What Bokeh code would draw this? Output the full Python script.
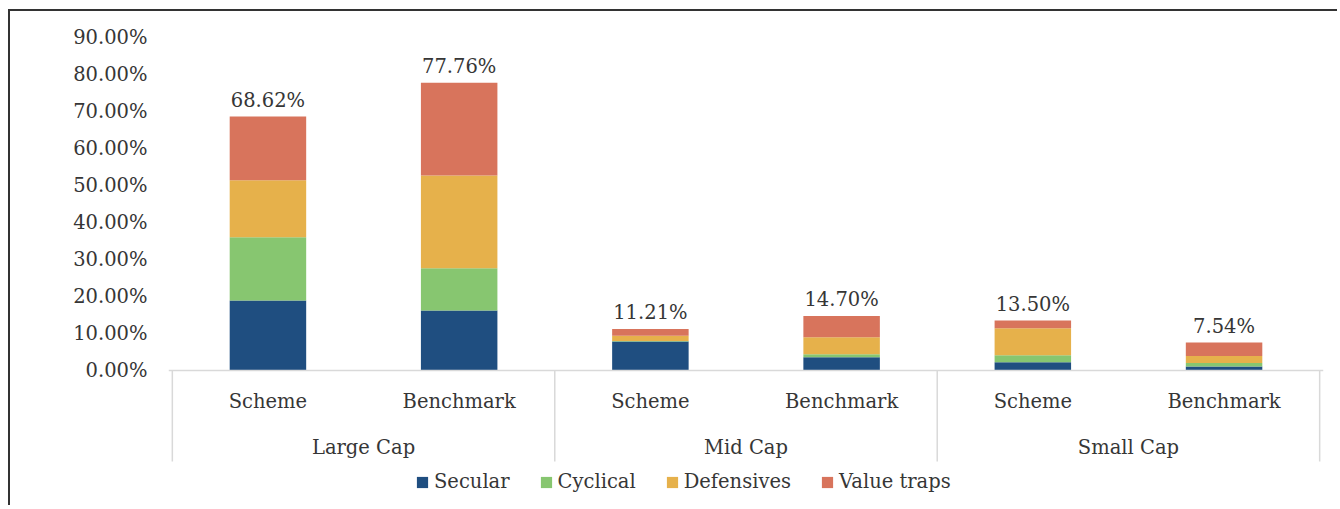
from bokeh.plotting import figure
from bokeh.models import (ColumnDataSource, FactorRange, Range1d, FixedTicker,
                          PrintfTickFormatter, Span)
from bokeh.core.properties import value
from bokeh.embed import file_html
from bokeh.resources import INLINE

groups = ["Large Cap", "Mid Cap", "Small Cap"]
subs = ["Scheme", "Benchmark"]
series = ["Secular", "Cyclical", "Defensives", "Value traps"]
secular = [18.9, 16.2, 7.8, 3.6, 2.2, 1.1]
cyclical = [17.1, 11.4, 0.2, 0.8, 1.9, 0.9]
defensives = [15.4, 25.1, 1.4, 4.6, 7.3, 1.9]
value_traps = [17.22, 25.06, 1.81, 5.7, 2.1, 3.64]
total_labels = ["68.62%", "77.76%", "11.21%", "14.70%", "13.50%", "7.54%"]
y_ticks = [0, 10, 20, 30, 40, 50, 60, 70, 80, 90]

colors = ["#1F4E80", "#87C670", "#E6B14B", "#D8745C"]
FONT = "DejaVu Serif"
FS = "19.5px"
TXT = "#363636"
AXIS_LOW = -24.6

factors = [(g, s) for g in groups for s in subs]
totals = [a + b + c + d for a, b, c, d in zip(secular, cyclical, defensives, value_traps)]

source = ColumnDataSource(dict(x=factors, Secular=secular, Cyclical=cyclical,
                               Defensives=defensives, **{"Value traps": value_traps}))

p = figure(width=1329, height=496,
           x_range=FactorRange(*factors, group_padding=0, factor_padding=0,
                               range_padding=0.02, range_padding_units="absolute"),
           y_range=Range1d(-36.5, 91.9),
           output_backend="svg", toolbar_location=None,
           min_border_left=158, min_border_right=16,
           min_border_top=19, min_border_bottom=2)
p.styles = {"margin-left": "8px", "margin-top": "9px",
            "border-left": "2px solid #333333", "border-top": "2px solid #333333"}

p.vbar_stack(series, x="x", width=0.4, color=colors, line_color=None,
             source=source, legend_label=series)

# baseline and category separators
p.add_layout(Span(location=0, dimension="width", line_color="#d9d9d9", line_width=1.5))
bounds = [i * len(subs) for i in range(len(groups) + 1)]
p.segment(x0=bounds, x1=bounds, y0=[0] * len(bounds), y1=[AXIS_LOW] * len(bounds),
          line_color="#d9d9d9", line_width=1.5)

# category labels
p.text(x=factors, y=[-8.4] * len(factors), text=[s for g, s in factors],
       text_font=value(FONT), text_font_size=FS, text_color=TXT,
       text_align="center", text_baseline="middle")
p.text(x=groups, y=[-20.8] * len(groups), text=groups,
       text_font=value(FONT), text_font_size=FS, text_color=TXT,
       text_align="center", text_baseline="middle")

# totals
p.text(x=factors, y=totals, text=total_labels, y_offset=-5,
       text_font=value(FONT), text_font_size=FS, text_color=TXT,
       text_align="center", text_baseline="bottom")

p.xaxis.visible = False
ax = p.yaxis[0]
ax.ticker = FixedTicker(ticks=y_ticks)
ax.formatter = PrintfTickFormatter(format="%.2f%%")
ax.axis_line_color = None
ax.major_tick_line_color = None
ax.major_tick_out = 0
ax.major_tick_in = 0
ax.minor_tick_line_color = None
ax.minor_tick_out = 0
ax.major_label_standoff = 21
ax.major_label_text_font = FONT
ax.major_label_text_font_size = FS
ax.major_label_text_color = TXT

p.xgrid.visible = False
p.ygrid.visible = False
p.outline_line_color = None

lg = p.legend[0]
lg.orientation = "horizontal"
lg.location = (247, 12)
lg.padding = 0
lg.margin = 0
lg.spacing = 29
lg.label_standoff = 5
lg.glyph_width = 14
lg.glyph_height = 14
lg.border_line_color = None
lg.background_fill_alpha = 0
lg.label_text_font = FONT
lg.label_text_font_size = FS
lg.label_text_color = TXT

open("out.html", "w").write(file_html(p, INLINE))
